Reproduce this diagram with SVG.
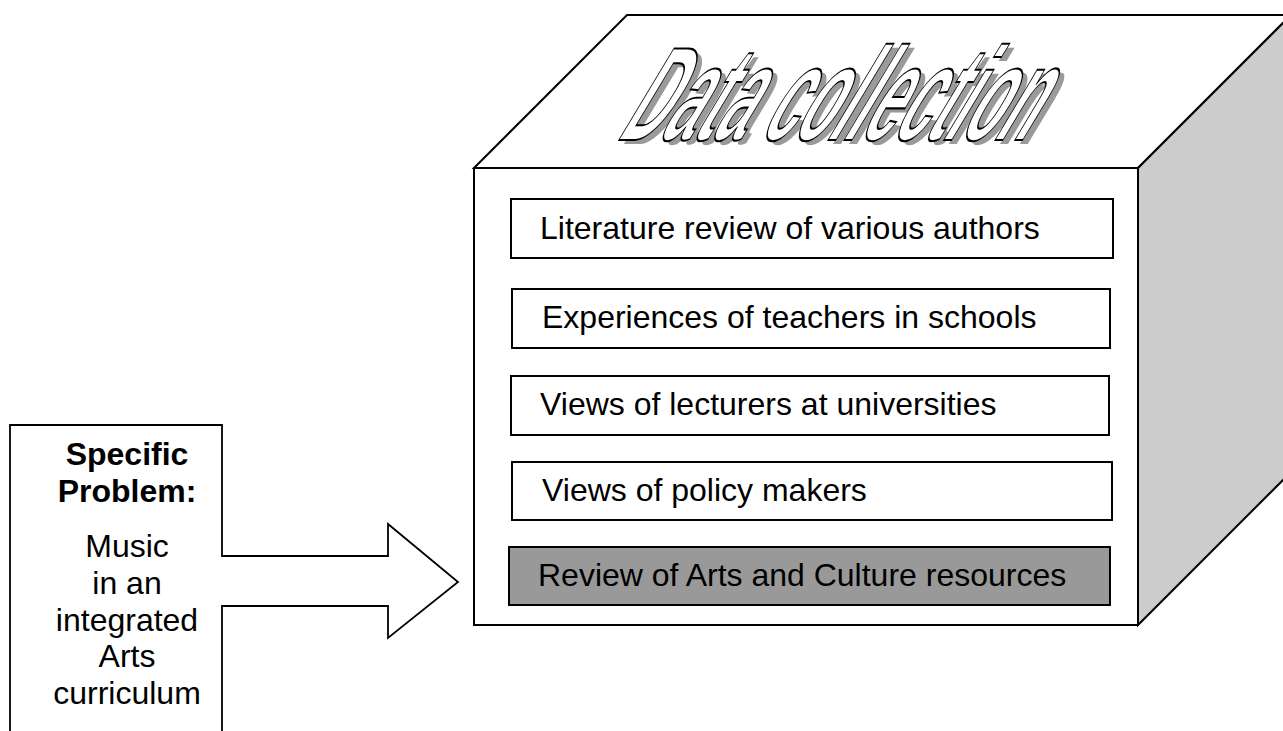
<svg xmlns="http://www.w3.org/2000/svg" width="1283" height="731" viewBox="0 0 1283 731">
<style>
.ln{stroke:#000;stroke-width:2;stroke-linejoin:miter}
.box{stroke:#000;stroke-width:2;fill:#fff}
.t{font-family:"Liberation Sans",Arial,sans-serif;font-size:32px;fill:#000}
.b{font-weight:bold}
.wa{font-family:"Liberation Sans",Arial,sans-serif;font-weight:bold;font-size:133px}
</style>
<rect width="1283" height="731" fill="#fff"/>
<g id="cube">
<polygon points="474,168 627,15 1291,15 1138,168" class="ln" fill="#fff"/>
<polygon points="1138,168 1291,15 1291,472 1138,625" class="ln" fill="#cccccc"/>
<rect x="474" y="168" width="664" height="457" class="box"/>
<g id="title">
<text class="wa" transform="translate(620,144) skewX(-31) scale(0.435,1)" fill="#9a9a9a">Data collection</text>
<text class="wa" transform="translate(615,140) skewX(-31) scale(0.435,1)" fill="#fff" stroke="#000" stroke-width="1.8" vector-effect="non-scaling-stroke">Data collection</text>
</g>
</g>
<g id="box1"><rect x="511" y="199" width="602" height="59" class="box"/><text class="t" x="540" y="239">Literature review of various authors</text></g>
<g id="box2"><rect x="512" y="289" width="598" height="59" class="box"/><text class="t" x="542" y="328">Experiences of teachers in schools</text></g>
<g id="box3"><rect x="511" y="376" width="598" height="59" class="box"/><text class="t" x="540" y="415">Views of lecturers at universities</text></g>
<g id="box4"><rect x="512" y="462" width="600" height="58" class="box"/><text class="t" x="542" y="501">Views of policy makers</text></g>
<g id="box5"><rect x="509" y="547" width="601" height="58" class="box" style="fill:#999999"/><text class="t" x="538" y="586">Review of Arts and Culture resources</text></g>
<g id="connectors">
<path d="M10,731 L10,425 L222,425 L222,556 L388,556 L388,524 L458,582 L388,638 L388,606 L222,606 L222,731" fill="#fff" stroke="#000" stroke-width="1.8"/>
</g>
<g id="problem">
<text class="t b" x="127" y="465" text-anchor="middle">Specific</text>
<text class="t b" x="127" y="502" text-anchor="middle">Problem:</text>
<text class="t" x="127" y="557" text-anchor="middle">Music</text>
<text class="t" x="127" y="594" text-anchor="middle">in an</text>
<text class="t" x="127" y="631" text-anchor="middle">integrated</text>
<text class="t" x="127" y="667" text-anchor="middle">Arts</text>
<text class="t" x="127" y="704" text-anchor="middle">curriculum</text>
</g>
</svg>
